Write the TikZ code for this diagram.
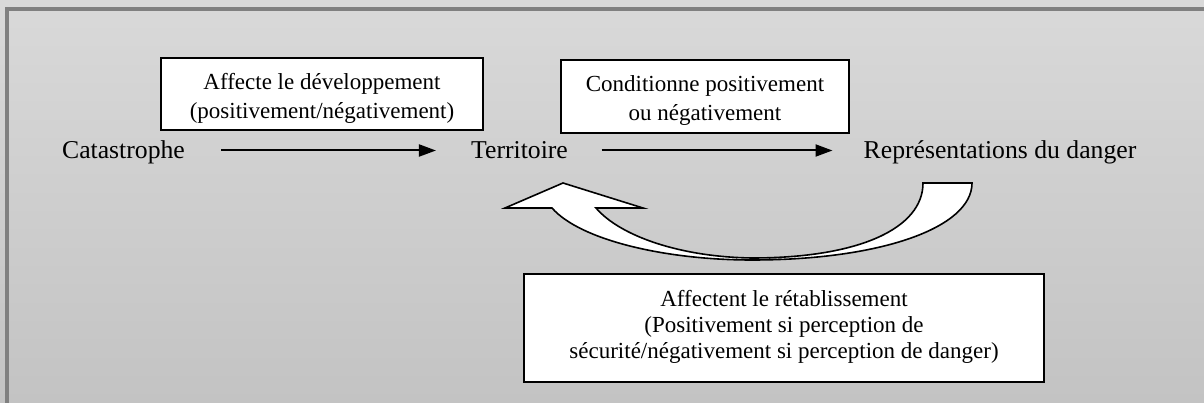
\documentclass[tikz,border=0pt]{standalone}
\usepackage{fontspec}
\setmainfont{Liberation Serif}
\usetikzlibrary{arrows.meta}
\definecolor{bgtop}{HTML}{D9D9D9}
\definecolor{bgbot}{HTML}{C3C3C3}
\definecolor{framegray}{HTML}{808080}
\newcommand{\boxlines}[2][-4pt]{\raisebox{#1}[\height][\depth]{\begin{tabular}{@{}c@{}}#2\end{tabular}}}
\begin{document}
\begin{tikzpicture}[x=1pt,y=-1pt,
  lbl/.style={inner sep=0pt, anchor=base, font=\fontsize{25.7}{30}\selectfont},
  boxnode/.style={draw=black, line width=1.8pt, fill=white, align=center, inner sep=0pt, font=\fontsize{23}{28.8}\selectfont},
  flow/.style={line width=2pt, -{Triangle[length=17pt,width=12pt]}},
  bigarrow/.style={draw=black, line width=1.6pt, fill=white, line join=miter}
]
\useasboundingbox (0,0) rectangle (1204,403);
\shade[top color=bgtop, bottom color=bgbot] (0,0) rectangle (1204,403);
\draw[line width=4pt, draw=framegray] (7,403) -- (7,9) -- (1204,9);

% labels
\node[lbl] (cat) at (123.5,158.5) {Catastrophe};
\node[lbl] (ter) at (519.5,158.5) {Territoire};
\node[lbl] (rep) at (1000,158.5) {Représentations du danger};

% straight arrows
\draw[flow] ([shift={(36,-8)}]cat.base east) -- ([shift={(-35,-8)}]ter.base west);
\draw[flow] ([shift={(33.5,-8)}]ter.base east) -- ([shift={(-31,-8)}]rep.base west);

% boxes
\node[boxnode, minimum width=322pt, minimum height=72pt] (b1) at (322,94)
  {\boxlines{Affecte le développement\\(positivement/négativement)}};
\node[boxnode, minimum width=288pt, minimum height=73pt] (b2) at (705,96.5)
  {\boxlines{Conditionne positivement\\ou négativement}};
\node[boxnode, minimum width=520pt, minimum height=108pt, font=\fontsize{23}{26.2}\selectfont] (b3) at (784,328)
  {\boxlines[1pt]{Affectent le rétablissement\\(Positivement si perception de\\sécurité/négativement si perception de danger)}};

% curved block arrow
\draw[bigarrow] (923,183) -- (972,183)
  .. controls (972,228) and (880,260) .. (752,260)
  .. controls (665,260) and (580,240) .. (552,208)
  -- (505,208) -- (563,183) -- (643,208) -- (596,208)
  .. controls (620,236) and (680,257) .. (752,258)
  .. controls (860,258) and (923,228) .. (923,183) -- cycle;
\end{tikzpicture}
\end{document}
